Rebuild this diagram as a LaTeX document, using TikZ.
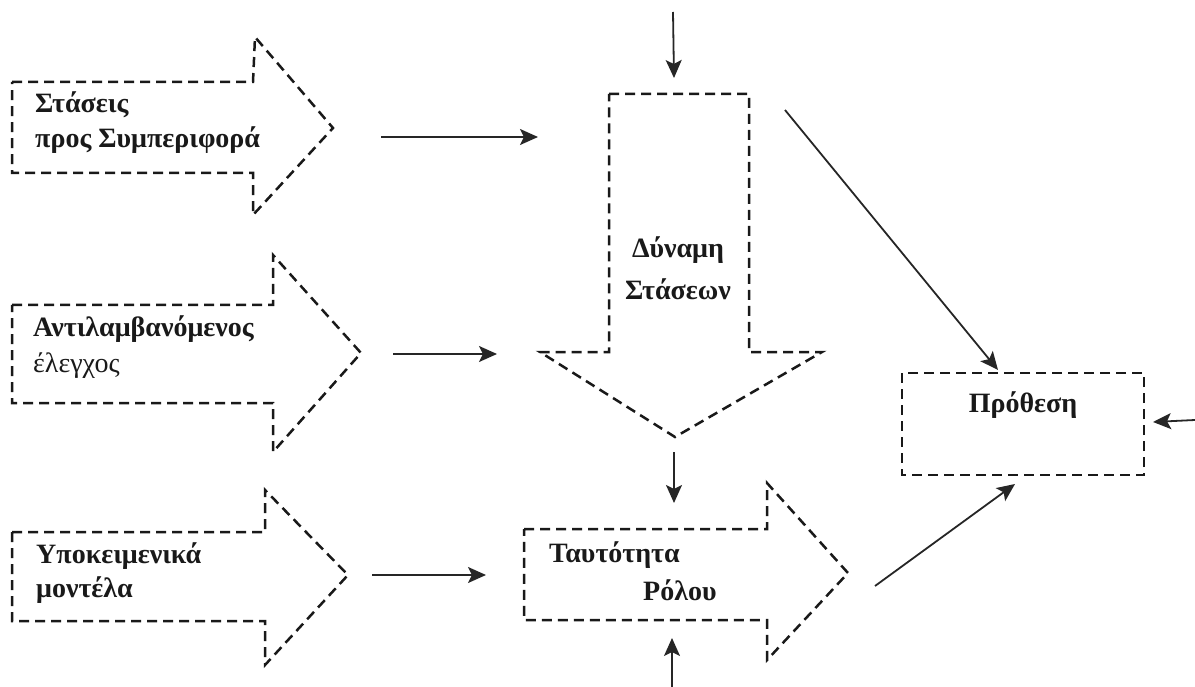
\documentclass[tikz,border=0pt]{standalone}
\usepackage{fontspec}
\setmainfont{Liberation Serif}
\usetikzlibrary{arrows.meta}
\tikzset{
  blockarrow/.style={draw=black!90, line width=2.5pt, dash pattern=on 10pt off 6pt, line join=miter},
  conn/.style={draw=black!85, line width=1.8pt, -{Stealth[length=18pt,width=16pt,inset=4pt]}},
  lbl/.style={anchor=base west, inner sep=0pt, font=\fontsize{28}{35}\selectfont\bfseries, text=black!90},
  lblreg/.style={anchor=base west, inner sep=0pt, font=\fontsize{28}{35}\selectfont, text=black!90},
  lblc/.style={anchor=base, inner sep=0pt, font=\fontsize{28}{35}\selectfont\bfseries, text=black!90}
}
\begin{document}
\begin{tikzpicture}[x=1pt,y=-1pt]
\useasboundingbox (0,0) rectangle (1195,687);
% block arrows
\draw[blockarrow] (12,82) -- (253,82) -- (255,37) -- (333,128) -- (253,215) -- (253,173) -- (12,173) -- cycle;
\draw[blockarrow] (12,305) -- (273,305) -- (273,255) -- (361,353) -- (273,452) -- (273,403) -- (12,403) -- cycle;
\draw[blockarrow] (12,532) -- (265,532) -- (265,490) -- (348,575) -- (265,665) -- (265,621) -- (12,621) -- cycle;
\draw[blockarrow] (609,94) -- (749,94) -- (749,352) -- (822,352) -- (675,437) -- (540,352) -- (609,352) -- cycle;
\draw[blockarrow] (524,529) -- (767,529) -- (767,483) -- (848,573) -- (767,660) -- (767,620) -- (524,620) -- cycle;
\draw[blockarrow] (902,373) rectangle (1144,475);
% labels
\node[lbl] (s1) at (35,113) {Στάσεις};
\node[lbl] (s2) at (35,148) {προς Συμπεριφορά};
\node[lbl] (a1) at (33,337) {Αντιλαμβανόμενος};
\node[lblreg] (a2) at (33,372) {έλεγχος};
\node[lbl] (y1) at (36,563) {Υποκειμενικά};
\node[lbl] (y2) at (36,597) {μοντέλα};
\node[lblc] (d1) at (678,258) {Δύναμη};
\node[lblc] (d2) at (678,300) {Στάσεων};
\node[lbl] (t1) at (549,562) {Ταυτότητα};
\node[lbl] (t2) at (643,600) {Ρόλου};
\node[lblc] (p1) at (1023,412) {Πρόθεση};
% connector endpoints
\coordinate (topS) at (673,12);
\coordinate (topE) at (674,78);
\coordinate (h1S) at (381,137);
\coordinate (h1E) at (538,137);
\coordinate (h2S) at (393,354);
\coordinate (h2E) at (497,354);
\coordinate (h3S) at (372,575);
\coordinate (h3E) at (486,575);
\coordinate (dpS) at (785,110);
\coordinate (dpE) at (998,370);
\coordinate (rS) at (1195,420);
\coordinate (rE) at (1153,422);
\coordinate (taS) at (674,452);
\coordinate (taE) at (674,503);
\coordinate (tbS) at (672,687);
\coordinate (tbE) at (672,638);
\coordinate (tpS) at (875,586);
\coordinate (tpE) at (1015,484);
% connectors
\draw[conn] (topS) -- (topE);
\draw[conn] (h1S) -- (h1E);
\draw[conn] (h2S) -- (h2E);
\draw[conn] (h3S) -- (h3E);
\draw[conn] (dpS) -- (dpE);
\draw[conn] (rS) -- (rE);
\draw[conn] (taS) -- (taE);
\draw[conn] (tbS) -- (tbE);
\draw[conn] (tpS) -- (tpE);
\end{tikzpicture}
\end{document}
